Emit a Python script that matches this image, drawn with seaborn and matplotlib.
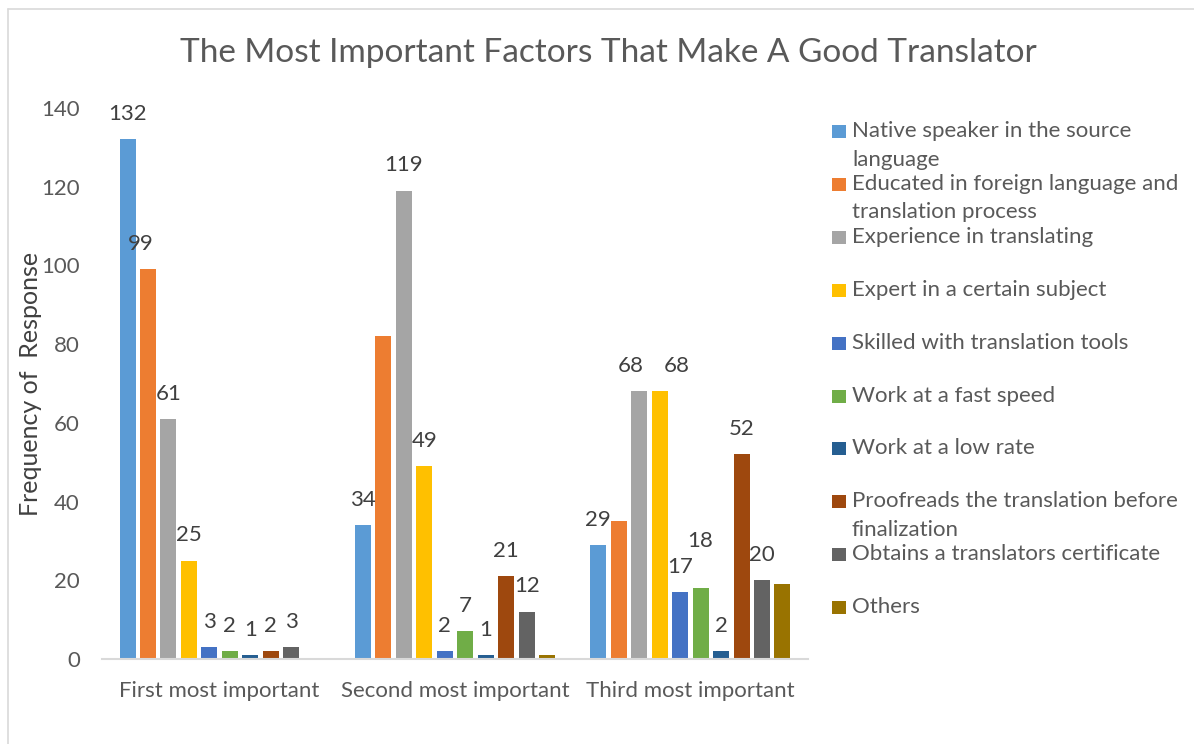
import matplotlib.pyplot as plt
import pandas as pd
import seaborn as sns
from matplotlib.patches import Rectangle
from matplotlib.lines import Line2D

# Chart data
groups = ['First most important', 'Second most important', 'Third most important']
factors = [
    'Native speaker in the source\nlanguage',
    'Educated in foreign language and\ntranslation process',
    'Experience in translating',
    'Expert in a certain subject',
    'Skilled with translation tools',
    'Work at a fast speed',
    'Work at a low rate',
    'Proofreads the translation before\nfinalization',
    'Obtains a translators certificate',
    'Others',
]
first_vals = [132, 99, 61, 25, 3, 2, 1, 2, 3, 0]
second_vals = [34, 82, 119, 49, 2, 7, 1, 21, 12, 1]
third_vals = [29, 35, 68, 68, 17, 18, 2, 52, 20, 19]
# data labels that are printed in the picture (blank = no label)
first_labels = ['132', '99', '61', '25', '3', '2', '1', '2', '3', '']
second_labels = ['34', '', '119', '49', '2', '7', '1', '21', '12', '']
third_labels = ['29', '', '68', '68', '17', '18', '2', '52', '20', '']
colors = ['#5B9BD5', '#ED7D31', '#A5A5A5', '#FFC000', '#4472C4',
          '#70AD47', '#255E91', '#9E480E', '#636363', '#997300']

# long form table for seaborn
rows = []
for g, vals in zip(groups, [first_vals, second_vals, third_vals]):
    for f, v in zip(factors, vals):
        rows.append({'group': g, 'factor': f, 'value': v})
df = pd.DataFrame(rows)

sns.set_style('white')
plt.rcParams['font.family'] = ['Lato', 'DejaVu Sans']

fig = plt.figure(figsize=(11.94, 7.44), dpi=100)
ax = fig.add_axes([102 / 1194, 1 - 659 / 744, 706 / 1194, 551 / 744])

sns.barplot(data=df, x='group', y='value', hue='factor', hue_order=factors,
            palette=colors, width=0.87, gap=0.22, legend=False, ax=ax,
            saturation=1, edgecolor='none')

# value labels
pad = 11
label_sets = [first_labels, second_labels, third_labels]
for i, cont in enumerate(ax.containers):
    labs = [label_sets[j][i] for j in range(len(groups))]
    anns = ax.bar_label(cont, labels=labs, padding=pad, fontsize=16, color='#404040')
    # a few labels are nudged the way the source chart has them
    if i == 1:
        anns[0].xyann = (-5, pad)
    if i == 2:
        anns[2].xyann = (-6, pad)
    if i == 3:
        anns[2].xyann = (12, pad)
    if i == 5:
        anns[2].xyann = (0, pad + 16)

ax.set_ylim(0, 140)
ax.set_xlim(-0.5, 2.5)
ax.set_yticks(range(0, 141, 20))
ax.tick_params(axis='y', length=0, pad=16, labelsize=16, labelcolor='#595959')
ax.tick_params(axis='x', length=0, pad=16, labelsize=16, labelcolor='#595959')
ax.set_xlabel('')
ax.set_ylabel('Frequency of  Response', fontsize=18, color='#404040')
ax.yaxis.set_label_coords(-0.085, 0.5)

for side in ['top', 'right', 'left']:
    ax.spines[side].set_visible(False)
ax.spines['bottom'].set_color('#D9D9D9')
ax.spines['bottom'].set_linewidth(1.5)

fig.text(608 / 1194, 1 - 53 / 744, 'The Most Important Factors That Make A Good Translator',
         ha='center', va='center', fontsize=24, color='#595959')

# legend drawn at the right side, one text per line so the key sits on the first line
W, H = 1194, 744
for k, (name, col) in enumerate(zip(factors, colors)):
    base = 137 + k * 52.9
    fig.add_artist(Rectangle((832 / W, 1 - (base + 1) / H), 14 / W, 13 / H,
                             transform=fig.transFigure, facecolor=col, edgecolor='none'))
    for j, line in enumerate(name.split('\n')):
        fig.text(852 / W, 1 - (base + 28.5 * j) / H, line, ha='left', va='baseline',
                 fontsize=16, color='#595959')

# outer chart frame
fig.add_artist(Line2D([8 / W, 8 / W], [0, 1 - 9 / H], transform=fig.transFigure,
                      color='#D9D9D9', lw=1.2))
fig.add_artist(Line2D([8 / W, 1], [1 - 9 / H, 1 - 9 / H], transform=fig.transFigure,
                      color='#D9D9D9', lw=1.2))

plt.savefig('out.png', dpi=100)
